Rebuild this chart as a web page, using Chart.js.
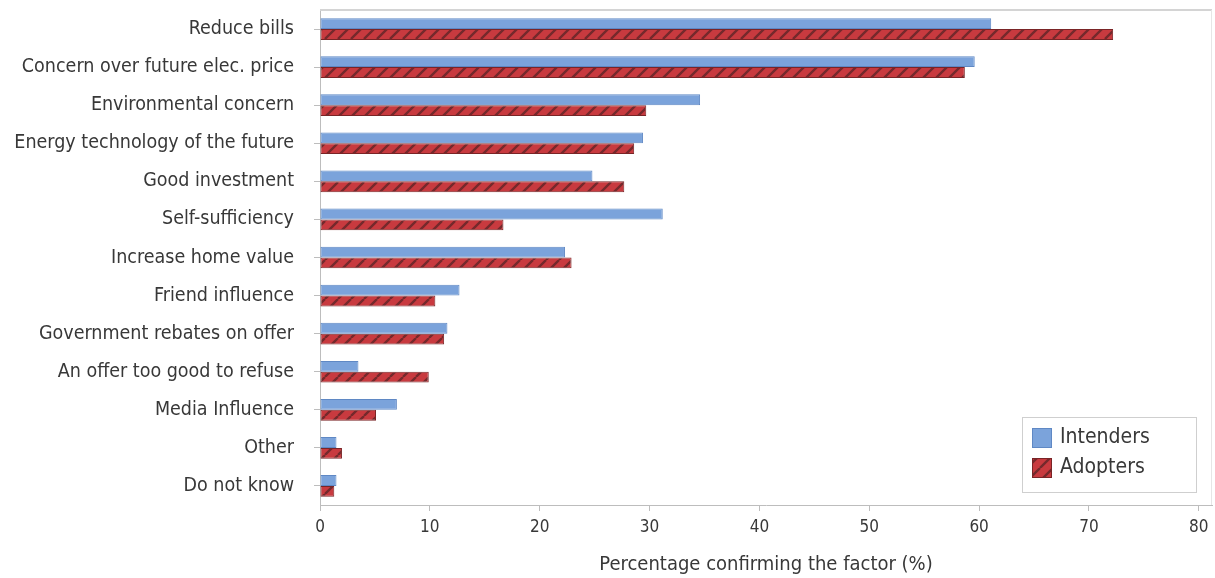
<!DOCTYPE html>
<html>
<head>
<meta charset="utf-8">
<script src="https://cdn.jsdelivr.net/npm/chart.js@4/dist/chart.umd.min.js"></script>
<style>
html,body{margin:0;padding:0;background:#fff;}
#wrap{width:1215px;height:578px;position:relative;}
</style>
</head>
<body>
<div id="wrap"><canvas id="c" width="1215" height="578"></canvas></div>
<script>
const categories = [
  "Reduce bills",
  "Concern over future elec. price",
  "Environmental concern",
  "Energy technology of the future",
  "Good investment",
  "Self-sufficiency",
  "Increase home value",
  "Friend influence",
  "Government rebates on offer",
  "An offer too good to refuse",
  "Media Influence",
  "Other",
  "Do not know"
];
const intenders = [61.1, 59.6, 34.6, 29.4, 24.8, 31.2, 22.3, 12.7, 11.6, 3.5, 7.0, 1.5, 1.5];
const adopters  = [72.2, 58.7, 29.7, 28.6, 27.7, 16.7, 22.9, 10.5, 11.3, 9.9, 5.1, 2.0, 1.3];
const xTicks = [0, 10, 20, 30, 40, 50, 60, 70, 80];
const seriesNames = ["Intenders", "Adopters"];
const xTitle = "Percentage confirming the factor (%)";

const FONT = "'DejaVu Sans Condensed', 'DejaVu Sans', Verdana, sans-serif";
const TEXT = "#383838";

function makeHatch() {
  const s = 13;
  const c = document.createElement('canvas');
  c.width = s; c.height = s;
  const g = c.getContext('2d');
  g.fillStyle = '#c83a3f';
  g.fillRect(0, 0, s, s);
  g.strokeStyle = '#74292c';
  g.lineWidth = 2.3;
  g.beginPath();
  for (const off of [-s, 0, s]) {
    g.moveTo(off, s);
    g.lineTo(off + s, 0);
  }
  g.stroke();
  return g.createPattern(c, 'repeat');
}
const ctx = document.getElementById('c').getContext('2d');
const hatch = makeHatch();

const framePlugin = {
  id: 'frame',
  beforeDatasetsDraw(chart) {
    const {ctx, chartArea: a} = chart;
    ctx.save();
    ctx.strokeStyle = '#d4d4d4';
    ctx.lineWidth = 2;
    ctx.beginPath();
    ctx.moveTo(a.left, a.top);
    ctx.lineTo(a.right, a.top);
    ctx.stroke();
    ctx.lineWidth = 1;
    ctx.strokeStyle = '#e6e6e6';
    ctx.beginPath();
    ctx.moveTo(a.right - 0.5, a.top);
    ctx.lineTo(a.right - 0.5, a.bottom);
    ctx.stroke();
    ctx.restore();
  }
};

const legendPlugin = {
  id: 'boxLegend',
  afterDraw(chart) {
    const {ctx} = chart;
    const x = 1022, y = 417, w = 174, h = 75;
    ctx.save();
    ctx.fillStyle = '#fff';
    ctx.fillRect(x, y, w, h);
    ctx.strokeStyle = '#cfcfcf';
    ctx.lineWidth = 1;
    ctx.strokeRect(x + 0.5, y + 0.5, w, h);
    chart.data.datasets.forEach((ds, i) => {
      const sy = y + 11 + i * 30;
      ctx.fillStyle = ds.backgroundColor;
      ctx.fillRect(x + 10, sy, 20, 20);
      ctx.strokeStyle = ds.borderColor;
      ctx.strokeRect(x + 10.5, sy + 0.5, 19, 19);
      ctx.fillStyle = TEXT;
      ctx.font = "21px " + FONT;
      ctx.textBaseline = 'middle';
      ctx.textAlign = 'left';
      ctx.fillText(ds.label, x + 38, sy + 10);
    });
    ctx.restore();
  }
};

new Chart(ctx, {
  type: 'bar',
  data: {
    labels: categories,
    datasets: [
      {label: seriesNames[0], data: intenders, backgroundColor: '#7ba3db', borderColor: '#5f88c4', borderWidth: 1, borderSkipped: false, categoryPercentage: 0.57, barPercentage: 1.0},
      {label: seriesNames[1], data: adopters, backgroundColor: hatch, borderColor: '#7a2426', borderWidth: 1, borderSkipped: false, categoryPercentage: 0.57, barPercentage: 1.0}
    ]
  },
  options: {
    indexAxis: 'y',
    responsive: false,
    animation: false,
    layout: {padding: {top: 10, right: 3, left: 0, bottom: 0}},
    plugins: {legend: {display: false}, tooltip: {enabled: false}},
    scales: {
      x: {
        min: 0, max: 81.2,
        afterBuildTicks(scale) { scale.ticks = xTicks.map(v => ({value: v})); },
        afterFit(scale) { scale.height = 73; scale.paddingLeft = 0; scale.paddingRight = 0; },
        grid: {drawOnChartArea: false, drawTicks: true, tickLength: 6, color: '#bdbdbd'},
        border: {color: '#bdbdbd'},
        ticks: {padding: 6, color: TEXT, font: {family: FONT, size: 17}, maxRotation: 0},
        title: {display: true, text: xTitle, color: TEXT, font: {family: FONT, size: 20}, padding: {top: 0, bottom: 1}}
      },
      y: {
        afterFit(scale) { scale.width = 320; scale.paddingTop = 0; scale.paddingBottom = 0; },
        grid: {drawOnChartArea: false, drawTicks: true, tickLength: 6, offset: false, color: '#bdbdbd'},
        border: {color: '#bdbdbd'},
        ticks: {padding: 20, color: TEXT, font: {family: FONT, size: 19.5}, autoSkip: false}
      }
    }
  },
  plugins: [framePlugin, legendPlugin]
});
</script>
</body>
</html>
